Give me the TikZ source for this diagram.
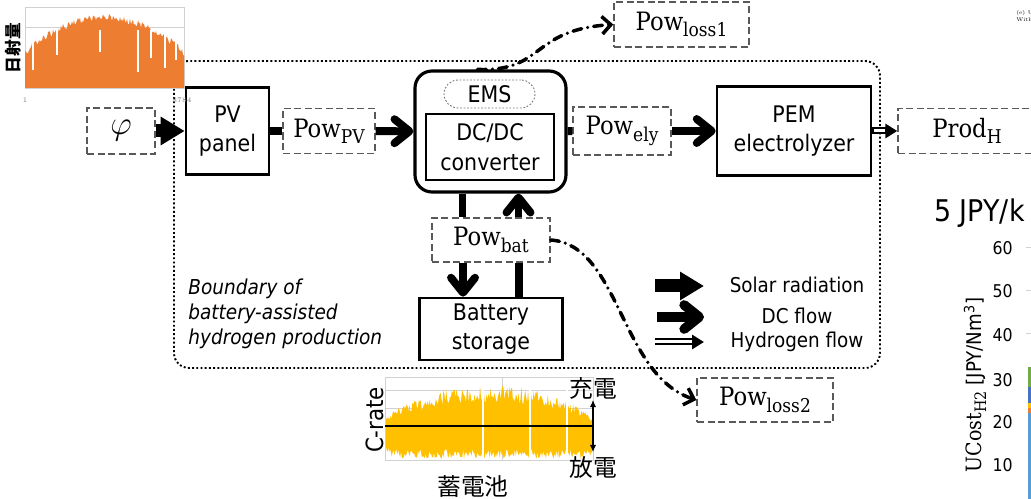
\RequirePackage{fix-cm}
\documentclass[tikz,border=0pt]{standalone}
\usepackage{fontspec}
\usepackage{xcolor}
\usepackage{tikz}
\usetikzlibrary{arrows.meta}
\newfontfamily\boxfontfam[FakeStretch=0.9]{DejaVu Sans}
\newfontfamily\noteitfam[FakeStretch=0.9]{DejaVu Sans Oblique}
\newfontfamily\powfam[FakeStretch=0.9]{DejaVu Serif}
\newfontfamily\cjk{Noto Sans CJK JP}
\newdimen\pxu \pxu=0.02cm
\newcommand\boxfont{\boxfontfam\fontsize{13}{17}\selectfont}
\newcommand\powfont{\powfam\fontsize{14.4}{17}\selectfont}
\newcommand\sub[2]{#1\raisebox{-0.25em}{\fontsize{10.8}{12}\selectfont #2}}
\definecolor{irrad}{HTML}{ED7D31}
\definecolor{crate}{HTML}{FFC000}
\definecolor{barg}{HTML}{70AD47}
\definecolor{barb}{HTML}{4472C4}
\definecolor{barl}{HTML}{5B9BD5}

\begin{document}
\begin{tikzpicture}[x=0.02cm,y=-0.02cm,
  box/.style={draw,line width=1.5pt,inner sep=0pt,align=center,font=\boxfont},
  pow/.style={draw=black!65,line width=0.8pt,dash pattern=on 4pt off 2pt,inner sep=0pt,font=\powfont},
  solar/.style={line width=7.4pt,-{Triangle[length=0.48cm,width=0.54cm]}},
  dcflow/.style={line width=4.5pt,-{Straight Barb[length=0.3cm,width=0.48cm,round]}},
  dcline/.style={line width=4.5pt},
  h2flow/.style={line width=0.14cm,-{Triangle[length=0.24cm,width=0.28cm]}},
  h2core/.style={white,line width=0.06cm},
  loss/.style={line width=2pt,line cap=round,dash pattern=on 5pt off 3.5pt on 0pt off 3.5pt,-{Straight Barb[length=5pt,width=10pt]}},
  gridln/.style={black!18,line width=0.5pt},
  legend/.style={font={\boxfontfam\fontsize{11.6}{13}\selectfont}}
]
\useasboundingbox (0,0) rectangle (1031,499);
\clip (0,0) rectangle (1031,499);

% boundary of the system
\draw[line width=1.1pt,dash pattern=on 1.1pt off 1.3pt,rounded corners=0.3cm] (174,61) rectangle (880,368);
\node[font={\noteitfam\fontsize{11.7}{14.2}\selectfont},align=left,anchor=north west,inner sep=0pt] (note) at (188,279) {Boundary of\\battery-assisted\\hydrogen production};

% main chain
\node[pow,minimum width=68\pxu,minimum height=46\pxu] (phi) at (121,131) {\fontsize{19}{20}\selectfont$\varphi$};
\node[box,minimum width=83\pxu,minimum height=87\pxu] (pv) at (227.5,131) {PV\\panel};
\node[pow,minimum width=92\pxu,minimum height=45\pxu] (ppv) at (329,131) {\sub{Pow}{PV}};
\node[box,rounded corners=0.34cm,line width=1.8pt,minimum width=151\pxu,minimum height=121\pxu] (ems) at (490.5,131.5) {};
\node[draw=black!55,line width=0.5pt,dash pattern=on 1pt off 1pt,rounded corners=0.28cm,minimum width=91\pxu,minimum height=28\pxu,inner sep=0pt,font=\boxfont] (emslbl) at (489.5,94) {EMS};
\node[box,line width=1.3pt,minimum width=128\pxu,minimum height=66\pxu] (dcdc) at (490,147) {DC/DC\\converter};
\node[pow,minimum width=98\pxu,minimum height=48\pxu] (pely) at (622,131) {\sub{Pow}{ely}};
\node[box,minimum width=154\pxu,minimum height=89\pxu] (pem) at (794,131) {PEM\\electrolyzer};
\node[pow,minimum width=138\pxu,minimum height=45\pxu] (prod) at (967,131) {\sub{Prod}{H}};
\node[pow,minimum width=135\pxu,minimum height=45\pxu] (loss1) at (681.5,24.5) {\sub{Pow}{loss1}};
\node[pow,minimum width=118\pxu,minimum height=44\pxu] (pbat) at (491,240) {\sub{Pow}{bat}};
\node[box,minimum width=143\pxu,minimum height=62\pxu] (bat) at (491,329) {Battery\\storage};
\node[pow,minimum width=136\pxu,minimum height=44\pxu] (loss2) at (765,400) {\sub{Pow}{loss2}};

\draw[solar] (phi) -- (pv);
\draw[dcline] (pv) -- (ppv);
\draw[dcflow] (ppv) -- (ems);
\draw[dcline] (ems) -- (pely);
\draw[dcflow] (pely) -- (pem);
\draw[h2flow] (pem) -- (prod);
\draw[h2core,shorten <=0.04cm,shorten >=0.24cm] (pem) -- (prod);

% battery branch
\draw[dcline] ([xshift=-0.56cm]ems.south) -- ([xshift=-0.56cm]ems.south |- pbat.north);
\draw[dcflow] ([xshift=0.56cm]ems.south |- pbat.north) -- ([xshift=0.56cm]ems.south);
\draw[dcflow] ([xshift=-0.56cm]pbat.south) -- ([xshift=-0.56cm]pbat.south |- bat.north);
\draw[dcline] ([xshift=0.56cm]pbat.south |- bat.north) -- ([xshift=0.56cm]pbat.south);

% losses
\draw[loss] ([xshift=-0.26cm]ems.north) .. controls (545,72) and (530,30) .. (loss1.west);
\draw[loss] (pbat.east) .. controls (620,245) and (620,375) .. (loss2.west);

% legend
\node[legend] (lsolar) at (797,285) {Solar radiation};
\node[legend] (ldc) at (797,316) {DC flow};
\node[legend] (lh2) at (797,342) {Hydrogen flow};
\coordinate (s0) at (655,286); \coordinate (s1) at (704,286);
\coordinate (d0) at (657,317); \coordinate (d1) at (704,317);
\coordinate (h0) at (655,342); \coordinate (h1) at (704,342);
\draw[solar] (s0) -- (s1);
\draw[dcflow,line width=5.5pt] (d0) -- (d1);
\draw[h2flow] (h0) -- (h1);
\draw[h2core,shorten >=0.24cm] (h0) -- (h1);

% irradiation chart
\pgfmathsetseed{7}
\fill[white] (0,0) rectangle (185,89);
\draw[gridln] (25,7) rectangle (184,88);
\draw[gridln] (25,27) -- (184,27);
\fill[irrad] (25,88) -- plot[domain=25:184,samples=160] (\x,{50-36*sin(1.132*(\x-25))^0.8+7*rnd}) -- (184,88) -- cycle;
\foreach \sx/\sy in {33/70,57/55,100/52,138/72,151/58,165/68,176/60}
  \draw[white,line width=0.7pt] (\sx,30) -- (\sx,\sy);
\node[black!50,font=\fontsize{4}{5}\selectfont] (xa) at (25,100) {1};
\node[black!50,font=\fontsize{4}{5}\selectfont] (xb) at (182,100) {8784};
\node[rotate=90,font={\cjk\bfseries\fontsize{9.5}{10}\selectfont}] (irrlbl) at (13,48) {日射量};

% C-rate chart
\draw[gridln] (385,377) rectangle (593,460);
\foreach \gy in {390,408,442} \draw[gridln] (385,\gy) -- (593,\gy);
\draw[gridln] (502,377) -- (502,460);
\fill[crate] plot[domain=386:592,samples=220] (\x,{426-(6+36*abs(sin(0.8654*(\x-385)))^0.7)*(0.55+0.45*rnd)})
  -- plot[domain=592:386,samples=220] (\x,{426+min(33,8+44*abs(sin(0.75*(\x-370)))^0.5)*(0.7+0.3*rnd)}) -- cycle;
\foreach \sx in {483,530,567} \draw[white,line width=0.8pt] (\sx,380) -- (\sx,458);
\draw[line width=1.3pt] (385,426) -- (593,426);
\coordinate (cup) at (593,400); \coordinate (cdn) at (593,452);
\draw[line width=0.6pt,{Latex[length=4pt,width=3.5pt]}-{Latex[length=4pt,width=3.5pt]}] (cup) -- (cdn);
\node[font={\cjk\fontsize{13.5}{14}\selectfont}] (chg) at (593,388) {充電};
\node[font={\cjk\fontsize{13.5}{14}\selectfont}] (dis) at (593,467) {放電};
\node[font={\cjk\fontsize{13.5}{14}\selectfont}] (batlbl) at (473,486) {蓄電池};
\node[rotate=90,font={\boxfontfam\fontsize{13.5}{14}\selectfont}] (cratelbl) at (375,420) {C-rate};

% cost chart at the right edge
\node[anchor=west,inner sep=0pt,font={\boxfontfam\fontsize{17}{18}\selectfont}] (costttl) at (934,213) {5 JPY/k};
\foreach \v/\vy in {60/248,50/291,40/335,30/380,20/422,10/465}
  \node[anchor=east,inner sep=0pt,font={\boxfontfam\fontsize{10}{11}\selectfont}] (tk\v) at (1013,\vy) {\v};
\foreach \vy in {247,290,333} \draw[gridln] (1026,\vy) -- (1031,\vy);
\fill[barg] (1028,367) rectangle (1036,387);
\fill[barb] (1028,387) rectangle (1036,403);
\fill[crate] (1028,403) rectangle (1036,408);
\fill[irrad] (1028,408) rectangle (1036,413);
\fill[barl] (1028,413) rectangle (1036,500);
\node[rotate=90,inner sep=0pt] (costlbl) at (975,385) {\powfam\fontsize{12}{14}\selectfont UCost\raisebox{-0.2em}{\fontsize{9}{10}\selectfont H2} {\boxfontfam\fontsize{11.5}{13}\selectfont [JPY/Nm\textsuperscript{3}]}};
\node[anchor=west,align=left,inner sep=0pt,font=\fontsize{3}{3.6}\selectfont] (capt) at (1016,16) {(e) U\\With};
\end{tikzpicture}
\end{document}
